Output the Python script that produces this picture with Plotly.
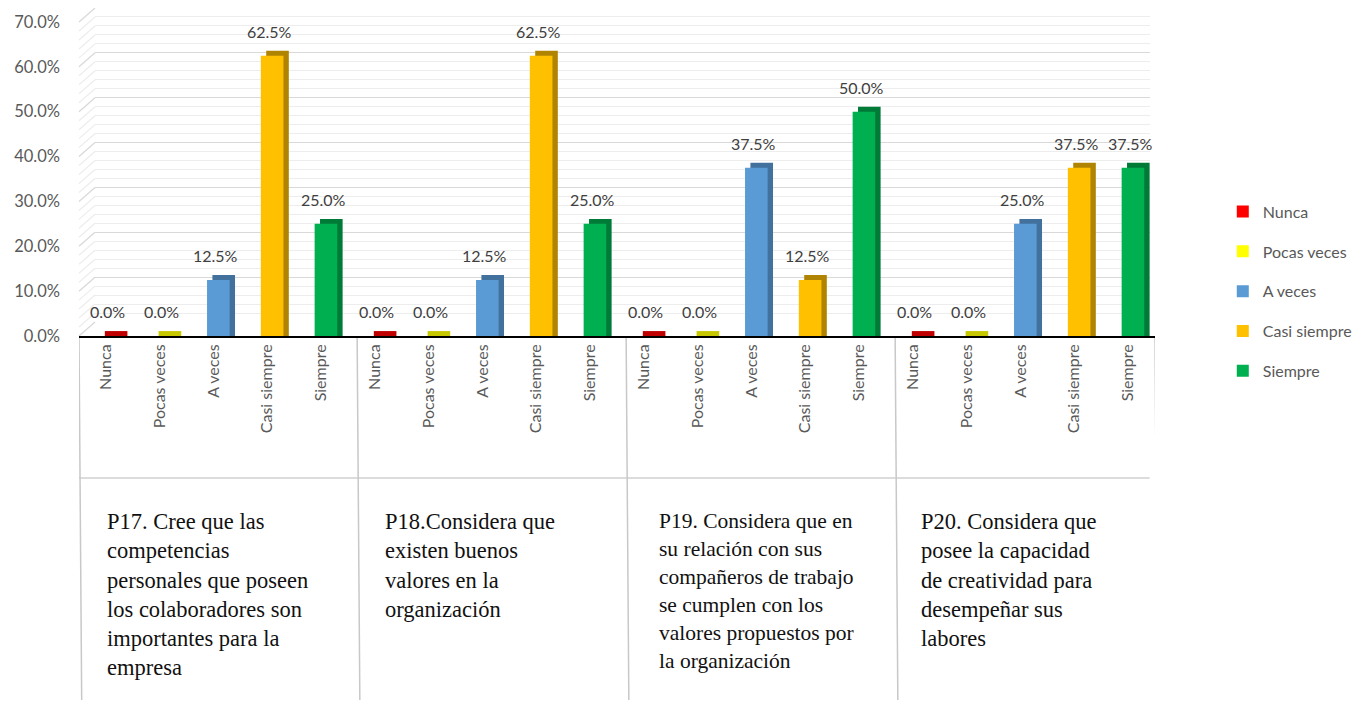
import plotly.graph_objects as go

# Survey answers (percent) per question
QUESTIONS = [
    "P17. Cree que las<br>competencias<br>personales que poseen<br>los colaboradores son<br>importantes para la<br>empresa",
    "P18.Considera que<br>existen buenos<br>valores en la<br>organización",
    "P19. Considera que en<br>su relación con sus<br>compañeros de trabajo<br>se cumplen con los<br>valores propuestos por<br>la organización",
    "P20. Considera que<br>posee la capacidad<br>de creatividad para<br>desempeñar sus<br>labores",
]
SERIES = ["Nunca", "Pocas veces", "A veces", "Casi siempre", "Siempre"]
nunca = [0.0, 0.0, 0.0, 0.0]
pocas_veces = [0.0, 0.0, 0.0, 0.0]
a_veces = [12.5, 12.5, 37.5, 25.0]
casi_siempre = [62.5, 62.5, 12.5, 37.5]
siempre = [25.0, 25.0, 50.0, 37.5]
VALUES = [nunca, pocas_veces, a_veces, casi_siempre, siempre]
Y_TICKS = [0, 10, 20, 30, 40, 50, 60, 70]

FACE = ["#FF0000", "#FFFF00", "#5B9BD5", "#FFC000", "#00B050"]
SIDE = ["#C00000", "#C8C800", "#41719C", "#B08400", "#007A37"]
QSIZE = [22.5, 22.5, 21.5, 22.5]
QSHIFT = [26, 35, 40, 33]

TICK_GREY = "#595959"
LABEL_FONT = "Lato, Liberation Sans, sans-serif"
DEPTH = 1.1  # fake 3d depth, in % units

n_s = len(SERIES)
n_q = len(QUESTIONS)

fig = go.Figure()

# invisible trace so the back-wall grid subplot (x/y) gets drawn first
fig.add_trace(go.Scatter(x=[0], y=[0], mode="markers", marker=dict(opacity=0),
                         showlegend=False, hoverinfo="skip"))

# darker "side" bars drawn first, slightly shifted -> 3d look
for s, name in enumerate(SERIES):
    xs = [q * n_s + s for q in range(n_q)]
    fig.add_trace(go.Bar(
        x=xs, y=[v + DEPTH for v in VALUES[s]], base=0,
        width=0.42, offset=-0.02, xaxis="x2", yaxis="y2",
        marker=dict(color=SIDE[s], line=dict(width=0)),
        showlegend=False, hoverinfo="skip",
    ))

for s, name in enumerate(SERIES):
    xs = [q * n_s + s for q in range(n_q)]
    fig.add_trace(go.Bar(
        x=xs, y=VALUES[s], name=name, legendgroup=name,
        width=0.42, offset=-0.12, xaxis="x2", yaxis="y2",
        marker=dict(color=FACE[s], line=dict(width=0)),
    ))

# data labels
for s in range(n_s):
    for q in range(n_q):
        v = VALUES[s][q]
        fig.add_annotation(
            x=q * n_s + s, y=v, xref="x2", yref="y2",
            text=f"{v:.1f}%", showarrow=False,
            yanchor="bottom", yshift=13, xshift=2,
            font=dict(size=16, color="#404040", family=LABEL_FONT),
        )

# category texts for the outer level
for q, txt in enumerate(QUESTIONS):
    fig.add_annotation(
        x=q * n_s - 0.5, y=-0.52, xref="x2", yref="paper",
        text=txt, showarrow=False, align="left",
        xanchor="left", yanchor="top", xshift=QSHIFT[q],
        font=dict(size=QSIZE[q], color="#111111", family="Liberation Serif, serif"),
    )

# plot area geometry (pixels, page has an 8px body margin):
# front 0% at 328, 70% at 14; back wall 14px higher
PH = 328
front_top = 314 / PH
back_bot = 14 / PH

shapes = []
# box lines around the category labels
y_axis = -2 / PH
y_mid = -142 / PH
y_bot = -364 / PH
shapes.append(dict(type="line", xref="x2", yref="paper", x0=-0.5, x1=19.4,
                   y0=y_mid, y1=y_mid, line=dict(color="#D0D0D0", width=1.5)))
for q in range(n_q + 1):
    xx = q * n_s - 0.5 + (0.17 if 0 < q < n_q else 0)
    shapes.append(dict(type="line", xref="x2", yref="paper", x0=xx, x1=xx + 0.05,
                       y0=y_axis, y1=y_bot, line=dict(color="#C8C8C8", width=1.5)))
# slanted side-wall bits of the gridlines
for v in range(0, 71, 2):
    yf = v / 70 * front_top
    yb = back_bot + v / 70 * front_top
    shapes.append(dict(type="line", xref="paper", yref="paper", x0=0.0, x1=16 / 1076,
                       y0=yf, y1=yb, layer="below",
                       line=dict(color="#D9D9D9" if v % 10 == 0 else "#EDEDED", width=1.3)))

fig.update_layout(
    width=1362, height=702,
    margin=dict(l=71, r=215, t=0, b=374, autoexpand=False),
    paper_bgcolor="white", plot_bgcolor="rgba(0,0,0,0)",
    barmode="overlay",
    shapes=shapes,
    # back wall grid
    xaxis=dict(domain=[16 / 1076, 1071 / 1076], range=[0, 1], visible=False,
               automargin=False),
    yaxis=dict(
        domain=[back_bot, 1], range=[0, 70],
        showticklabels=False, ticks="", zeroline=False, automargin=False,
        dtick=10, gridcolor="#D9D9D9", gridwidth=1.3,
        minor=dict(dtick=2, showgrid=True, gridcolor="#EDEDED", gridwidth=1.3),
    ),
    # the bars
    xaxis2=dict(
        domain=[0, 1], range=[-0.5, 19.5], anchor="y2",
        tickmode="array",
        tickvals=list(range(n_q * n_s)),
        ticktext=SERIES * n_q,
        tickangle=-90,
        tickfont=dict(size=16, color=TICK_GREY, family=LABEL_FONT),
        showgrid=False, zeroline=False, automargin=False,
        showline=True, linecolor="#000000", linewidth=2,
        ticks="", fixedrange=True,
    ),
    yaxis2=dict(
        domain=[0, front_top], range=[0, 70], anchor="x2",
        tickmode="array", tickvals=Y_TICKS,
        ticktext=[f"{t:.1f}%" for t in Y_TICKS],
        tickfont=dict(size=16.5, color=TICK_GREY, family=LABEL_FONT),
        ticklabelstandoff=18, automargin=False,
        showgrid=False, zeroline=False, showline=False,
    ),
    legend=dict(
        x=1.063, y=0.431, xanchor="left", yanchor="top",
        font=dict(size=16, color=TICK_GREY, family=LABEL_FONT),
        tracegroupgap=16, bgcolor="rgba(0,0,0,0)",
        itemwidth=30,
    ),
)

fig.write_html("out.html")
